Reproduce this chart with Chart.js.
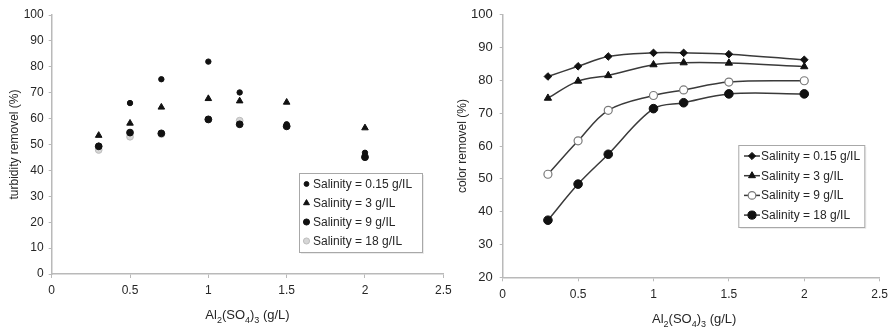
<!DOCTYPE html>
<html>
<head>
<meta charset="utf-8">
<script src="https://cdn.jsdelivr.net/npm/chart.js@4.4.1/dist/chart.umd.min.js"></script>
<style>
  html, body { margin: 0; padding: 0; background: #fff; }
  #wrap { position: relative; width: 894px; height: 331px; overflow: hidden; background: #fff; }
  #turb { position: absolute; left: 0; top: 0; }
  #color { position: absolute; left: 447px; top: 0; }
</style>
</head>
<body>
<div id="wrap">
  <canvas id="turb" width="460" height="331"></canvas>
  <canvas id="color" width="447" height="331"></canvas>
</div>
<script>
// Coagulant dose, Al2(SO4)3 in g/L
const doses = [0.3, 0.5, 0.7, 1, 1.2, 1.5, 2];
const salinityLabels = ['Salinity = 0.15 g/IL', 'Salinity = 3 g/IL', 'Salinity = 9 g/IL', 'Salinity = 18 g/IL'];

// Turbidity removal (%) per salinity level
const turb015 = [49.5, 66.0, 75.2, 82.0, 70.1, 57.8, 46.8];
const turb3   = [53.5, 58.2, 64.4, 67.7, 66.8, 66.3, 56.4];
const turb9   = [49.3, 54.6, 54.3, 59.7, 57.8, 57.0, 45.1];
const turb18  = [47.9, 53.0, 54.0, 59.6, 59.2, 57.2, 45.4];

// Color removal (%) per salinity level
const color015 = [81.2, 84.3, 87.3, 88.4, 88.4, 88.0, 86.3];
const color3   = [74.6, 79.8, 81.5, 84.8, 85.4, 85.3, 84.2];
const color9   = [51.4, 61.6, 70.9, 75.4, 77.1, 79.5, 79.9];
const color18  = [37.4, 48.4, 57.5, 71.4, 73.2, 75.9, 75.9];

// Axis tick values
const xTicks = [0, 0.5, 1, 1.5, 2, 2.5];
const turbTicks = [0, 10, 20, 30, 40, 50, 60, 70, 80, 90, 100];
const colorTicks = [20, 30, 40, 50, 60, 70, 80, 90, 100];

// Axis titles
const turbTitle = 'turbidity removel (%)';
const colorTitle = 'color removel (%)';
const xTitleParts = [['Al', 0], ['2', 1], ['(SO', 0], ['4', 1], [')', 0], ['3', 1], [' (g/L)', 0]];

const FONT = '"Liberation Sans", Arial, Helvetica, sans-serif';
const TEXT = '#262626';
const AXIS = '#b9b9b9';

const pts = (ys) => doses.map((x, i) => ({ x, y: ys[i] }));

// X-axis title with subscripts
const subTitlePlugin = {
  id: 'subTitle',
  afterDraw(chart, args, o) {
    const ctx = chart.ctx, a = chart.chartArea;
    const main = o.size + 'px ' + FONT;
    const sub = Math.round(o.size * 0.72) + 'px ' + FONT;
    ctx.save();
    let w = 0;
    xTitleParts.forEach(p => { ctx.font = p[1] ? sub : main; w += ctx.measureText(p[0]).width; });
    let x = (a.left + a.right) / 2 - w / 2 + (o.dx || 0);
    ctx.fillStyle = TEXT;
    ctx.textAlign = 'left';
    ctx.textBaseline = 'alphabetic';
    xTitleParts.forEach(p => {
      ctx.font = p[1] ? sub : main;
      ctx.fillText(p[0], x, o.baseline + (p[1] ? o.size * 0.32 : 0));
      x += ctx.measureText(p[0]).width;
    });
    ctx.restore();
  }
};

// Boxed legend inside the plot area
const boxLegendPlugin = {
  id: 'boxLegend',
  afterDraw(chart, args, o) {
    const ctx = chart.ctx;
    ctx.save();
    ctx.fillStyle = '#fff';
    ctx.fillRect(o.x, o.y, o.w, o.h);
    ctx.strokeStyle = '#a8a8a8';
    ctx.lineWidth = 1;
    ctx.strokeRect(o.x + 0.5, o.y + 0.5, o.w, o.h);
    ctx.strokeStyle = 'rgba(0,0,0,0.08)';
    ctx.beginPath();
    ctx.moveTo(o.x + 2, o.y + o.h + 1.5); ctx.lineTo(o.x + o.w + 1.5, o.y + o.h + 1.5); ctx.lineTo(o.x + o.w + 1.5, o.y + 2);
    ctx.stroke();
    chart.data.datasets.forEach((ds, i) => {
      const cy = o.y + o.firstRow + i * o.rowGap;
      if (o.line) {
        ctx.strokeStyle = ds.borderColor;
        ctx.lineWidth = ds.borderWidth;
        ctx.beginPath();
        ctx.moveTo(o.markerX - 8, cy);
        ctx.lineTo(o.markerX + 8, cy);
        ctx.stroke();
      }
      ctx.fillStyle = ds.pointBackgroundColor;
      ctx.strokeStyle = ds.pointBorderColor;
      ctx.lineWidth = ds.pointBorderWidth;
      Chart.helpers.drawPoint(ctx, {
        pointStyle: ds.pointStyle,
        radius: ds.pointRadius * (o.markerScale || 1),
        rotation: 0,
        borderWidth: ds.pointBorderWidth
      }, o.markerX, cy);
      ctx.fillStyle = TEXT;
      ctx.font = '12px ' + FONT;
      ctx.textAlign = 'left';
      ctx.textBaseline = 'middle';
      ctx.fillText(ds.label, o.textX, cy + 0.5);
    });
    ctx.restore();
  }
};

function xScale(tickFont, tickPad, height) {
  return {
    type: 'linear', min: 0, max: 2.5,
    afterBuildTicks: s => { s.ticks = xTicks.map(v => ({ value: v })); },
    afterFit: s => { s.height = height; },
    grid: { display: true, drawOnChartArea: false, drawTicks: true, tickLength: 4, color: AXIS, lineWidth: 1 },
    border: { display: true, color: AXIS, width: 1.5 },
    ticks: { color: TEXT, font: { family: FONT, size: tickFont }, padding: tickPad, maxRotation: 0,
             callback: v => String(v) },
    title: { display: false }
  };
}

function yScale(min, max, vals, width, title, titlePad, tickFont, tickPad) {
  return {
    type: 'linear', min, max,
    afterBuildTicks: s => { s.ticks = vals.map(v => ({ value: v })); },
    afterFit: s => { s.width = width; },
    grid: { display: true, drawOnChartArea: false, drawTicks: true, tickLength: 3, color: AXIS, lineWidth: 1 },
    border: { display: true, color: AXIS, width: 1.5 },
    ticks: { color: TEXT, font: { family: FONT, size: tickFont }, padding: tickPad, callback: v => String(v) },
    title: { display: true, text: title, color: TEXT, font: { family: FONT, size: 12 }, padding: { top: titlePad, bottom: 0 } }
  };
}

// Turbidity removal: markers only
new Chart(document.getElementById('turb'), {
  type: 'scatter',
  data: {
    datasets: [
      { label: salinityLabels[0], data: pts(turb015), pointStyle: 'circle', pointRadius: 2.7,
        pointBackgroundColor: '#111', pointBorderColor: '#111', pointBorderWidth: 1 },
      { label: salinityLabels[1], data: pts(turb3), pointStyle: 'triangle', pointRadius: 3.8,
        pointBackgroundColor: '#111', pointBorderColor: '#111', pointBorderWidth: 1 },
      { label: salinityLabels[2], data: pts(turb9), pointStyle: 'circle', pointRadius: 3.4,
        pointBackgroundColor: '#111', pointBorderColor: '#111', pointBorderWidth: 1 },
      { label: salinityLabels[3], data: pts(turb18), pointStyle: 'circle', pointRadius: 3.4,
        pointBackgroundColor: '#d6d6d6', pointBorderColor: '#bdbdbd', pointBorderWidth: 1 }
    ]
  },
  options: {
    responsive: false, animation: false, devicePixelRatio: 1,
    layout: { padding: { left: 0, top: 15, right: 16.7, bottom: 0 } },
    scales: {
      x: xScale(12, 5, 57),
      y: yScale(0, 100, turbTicks, 51.7, turbTitle, 7, 12, 5)
    },
    plugins: {
      legend: { display: false },
      tooltip: { enabled: false },
      subTitle: { size: 13, baseline: 318.5 },
      boxLegend: { x: 299, y: 173, w: 123, h: 79, firstRow: 11, rowGap: 19, markerX: 306.5, textX: 313, markerScale: 0.9 }
    }
  },
  plugins: [subTitlePlugin, boxLegendPlugin]
});

// Color removal: smoothed lines with markers
const lineStyle = { borderColor: '#3a3a3a', borderWidth: 1.5, tension: 0.35, fill: false };
new Chart(document.getElementById('color'), {
  type: 'line',
  data: {
    datasets: [
      Object.assign({ label: salinityLabels[0], data: pts(color015), pointStyle: 'rectRot', pointRadius: 3.8,
        pointBackgroundColor: '#111', pointBorderColor: '#111', pointBorderWidth: 1 }, lineStyle),
      Object.assign({ label: salinityLabels[1], data: pts(color3), pointStyle: 'triangle', pointRadius: 4.2,
        pointBackgroundColor: '#111', pointBorderColor: '#111', pointBorderWidth: 1 }, lineStyle),
      Object.assign({ label: salinityLabels[2], data: pts(color9), pointStyle: 'circle', pointRadius: 4,
        pointBackgroundColor: '#fff', pointBorderColor: '#7a7a7a', pointBorderWidth: 1.2 }, lineStyle),
      Object.assign({ label: salinityLabels[3], data: pts(color18), pointStyle: 'circle', pointRadius: 4.3,
        pointBackgroundColor: '#111', pointBorderColor: '#111', pointBorderWidth: 1 }, lineStyle)
    ]
  },
  options: {
    responsive: false, animation: false, devicePixelRatio: 1,
    layout: { padding: { left: 0, top: 14, right: 11.3, bottom: 0 } },
    scales: {
      x: xScale(12, 6, 53.7),
      y: yScale(20, 100, colorTicks, 55.7, colorTitle, 8, 13, 7)
    },
    plugins: {
      legend: { display: false },
      tooltip: { enabled: false },
      subTitle: { size: 13, baseline: 323, dx: 3 },
      boxLegend: { x: 291.3, y: 145, w: 126, h: 82, firstRow: 11, rowGap: 19.7, markerX: 305, textX: 314, line: true, markerScale: 0.95 }
    }
  },
  plugins: [subTitlePlugin, boxLegendPlugin]
});
</script>
</body>
</html>
